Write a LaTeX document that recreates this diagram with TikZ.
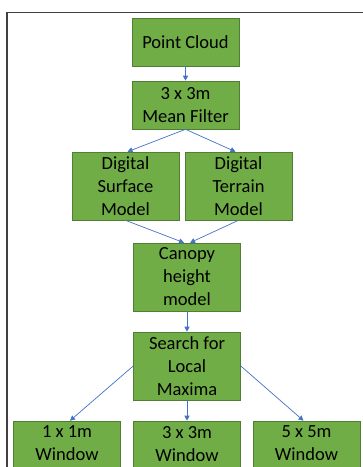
\documentclass[tikz,border=0pt]{standalone}
\usepackage{fontspec}
\setmainfont{Carlito}
\usetikzlibrary{arrows.meta}
\definecolor{boxgreen}{HTML}{70AD47}
\definecolor{boxedge}{HTML}{507E32}
\definecolor{arrowblue}{HTML}{4472C4}
\tikzset{
  stepbox/.style={draw=boxedge,fill=boxgreen,line width=0.6pt,minimum width=107pt,
    minimum height=48pt,inner sep=0pt,align=center,
    font=\fontsize{18.5}{23}\selectfont},
  tallbox/.style={stepbox,minimum height=68pt},
  flow/.style={draw=arrowblue,line width=0.7pt,-{Triangle[length=5pt,width=5pt]}}
}
\begin{document}
\begin{tikzpicture}[x=1pt,y=-1pt]
            \useasboundingbox (0,0) rectangle (363,467);
            \clip (0,0) rectangle (363,467);
            \fill[white] (0,0) rectangle (363,467);
            % outer frame
            \draw[line width=1.3pt,color=black!75] (380,12.7) -- (7,12.7) -- (7,490);
            \node[stepbox] (cloud) at (185.5,42) {Point Cloud};
            \node[stepbox] (mean) at (185.5,105) {3 x 3m\\Mean Filter};
            \node[tallbox] (dsm) at (125.5,186) {Digital\\Surface\\Model};
            \node[tallbox] (dtm) at (238.5,186) {Digital\\Terrain\\Model};
            \node[tallbox] (chm) at (187,277) {Canopy\\height\\model};
            \node[tallbox] (search) at (187,366) {Search for\\Local\\Maxima};
            \foreach \name/\x/\size in {winA/67/1 x 1m,winB/187/3 x 3m,winC/306.5/5 x 5m}
              \node[tallbox] (\name) at (\x,455) {\size\\Window\\~};
            \draw[flow] (cloud) -- (mean);
            \draw[flow] (mean.south) -- ([xshift=2pt]dsm.north);
            \draw[flow] (mean.south) -- ([xshift=-3pt]dtm.north);
            \draw[flow] (dsm.south) -- ([xshift=-3pt]chm.north);
            \draw[flow] (dtm.south) -- ([xshift=3pt]chm.north);
            \draw[flow] (chm) -- (search);
            \draw[flow] (search.west) -- ([xshift=3pt]winA.north);
            \draw[flow] (search) -- (winB);
            \draw[flow] (search.east) -- ([xshift=-3pt]winC.north);
        \end{tikzpicture}
\end{document}
